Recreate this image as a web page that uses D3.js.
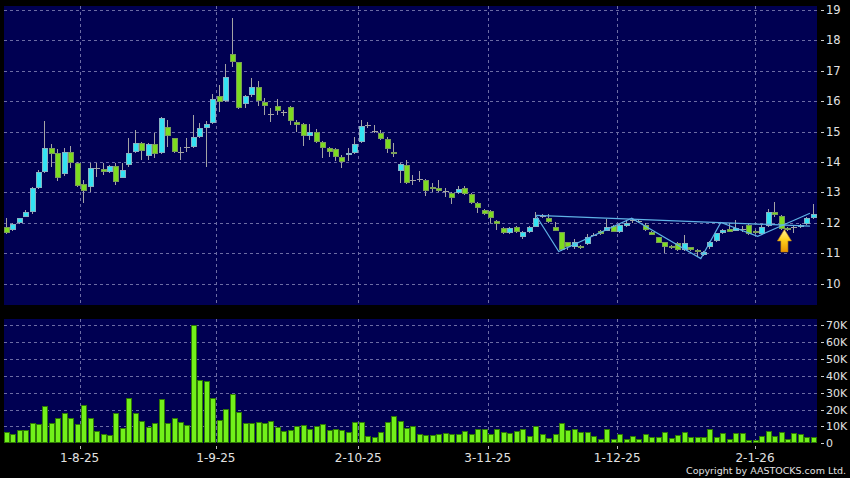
<!DOCTYPE html>
<html>
<head>
<meta charset="utf-8">
<script src="https://cdn.jsdelivr.net/npm/d3@7/dist/d3.min.js"></script>
<style>
  html, body { margin: 0; padding: 0; background: #000; }
  svg { display: block; }
  text { font-family: "DejaVu Sans", sans-serif; fill: #e2e2e2; }
</style>
</head>
<body>
<svg id="chart" width="850" height="478"></svg>
<script>
// daily candles, 17 Jul 2025 .. 15 Jan 2026 (index = trading day)
const opens = [11.87, 11.76, 11.98, 12.20, 12.34, 13.14, 13.67, 14.46, 14.28, 13.59, 14.32, 13.96, 13.26, 13.17, 13.81, 13.77, 13.66, 13.86, 13.48, 13.89,
  14.34, 14.61, 14.21, 14.58, 14.28, 15.16, 14.78, 14.33, 14.50, 14.49, 14.82, 15.12, 15.28, 16.17, 16.00, 17.55, 17.29, 15.91, 16.20, 16.47,
  15.97, 15.58, 15.84, 15.63, 15.81, 15.31, 15.25, 14.85, 14.99, 14.66, 14.46, 14.43, 14.16, 14.23, 14.29, 14.66, 15.22, 15.02, 14.95, 14.76,
  14.33, 13.70, 13.90, 13.42, 13.44, 13.41, 13.18, 13.14, 13.04, 12.98, 12.98, 13.14, 12.95, 12.65, 12.42, 12.39, 12.06, 11.83, 11.66, 11.86,
  11.53, 11.69, 11.87, 12.23, 12.17, 11.87, 11.69, 11.36, 11.21, 11.25, 11.29, 11.60, 11.74, 11.74, 11.89, 11.70, 11.89, 12.09, 12.06, 11.93,
  11.70, 11.52, 11.36, 11.23, 11.32, 11.10, 11.19, 11.10, 10.94, 11.19, 11.40, 11.65, 11.79, 11.74, 11.79, 11.93, 11.73, 11.62, 11.89, 12.34,
  12.23, 11.84, 11.86, 11.87, 11.95, 12.15];
const highs = [12.16, 11.98, 12.17, 12.42, 13.16, 13.75, 15.35, 14.59, 14.42, 14.45, 14.52, 14.00, 13.41, 13.96, 13.98, 13.96, 13.90, 13.98, 13.96, 14.80,
  15.05, 14.65, 14.62, 14.94, 15.47, 15.38, 14.80, 14.50, 14.78, 15.55, 15.29, 15.35, 16.24, 16.53, 17.22, 18.73, 17.30, 16.20, 16.75, 16.66,
  16.09, 15.77, 16.07, 15.70, 15.84, 15.38, 15.28, 15.24, 15.08, 14.70, 14.50, 14.46, 14.23, 14.45, 14.83, 15.38, 15.32, 15.22, 15.05, 14.83,
  14.61, 13.95, 14.06, 13.57, 13.70, 13.45, 13.30, 13.41, 13.13, 13.00, 13.21, 13.21, 12.97, 12.67, 12.44, 12.41, 12.08, 11.85, 11.86, 11.90,
  11.72, 11.90, 12.34, 12.30, 12.30, 12.03, 11.71, 11.38, 11.45, 11.28, 11.62, 11.65, 11.76, 12.11, 11.92, 11.96, 12.10, 12.15, 12.10, 11.98,
  11.72, 11.54, 11.38, 11.26, 11.38, 11.60, 11.21, 11.12, 11.08, 11.40, 11.67, 11.78, 11.98, 12.09, 11.90, 11.96, 11.75, 11.93, 12.44, 12.69,
  12.25, 11.87, 11.93, 11.96, 12.20, 12.62];
const lows = [11.62, 11.73, 11.96, 12.18, 12.30, 13.12, 13.62, 13.84, 13.37, 13.55, 13.79, 13.18, 12.64, 13.00, 13.51, 13.57, 13.62, 13.24, 13.46, 13.85,
  14.28, 14.06, 14.06, 14.12, 14.25, 14.50, 14.28, 14.06, 14.34, 14.45, 14.80, 13.84, 15.25, 15.65, 15.97, 17.13, 15.74, 15.78, 16.15, 15.85,
  15.55, 15.32, 15.55, 15.50, 15.22, 14.98, 14.53, 14.72, 14.62, 14.12, 14.17, 14.03, 13.81, 14.04, 14.27, 14.63, 15.11, 14.94, 14.73, 14.28,
  14.17, 13.31, 13.26, 13.24, 13.35, 12.88, 13.02, 13.02, 12.86, 12.61, 12.96, 12.92, 12.62, 12.31, 12.25, 12.00, 11.76, 11.62, 11.62, 11.66,
  11.45, 11.66, 11.85, 12.16, 12.00, 11.72, 11.08, 11.10, 11.15, 11.15, 11.27, 11.55, 11.60, 11.72, 11.68, 11.67, 11.87, 12.00, 12.00, 11.74,
  11.58, 11.32, 11.00, 11.15, 11.08, 11.06, 11.08, 10.88, 10.90, 11.15, 11.38, 11.63, 11.68, 11.72, 11.70, 11.60, 11.63, 11.60, 11.87, 12.20,
  11.77, 11.72, 11.65, 11.84, 11.93, 12.13];
const closes = [11.65, 11.95, 12.15, 12.34, 13.14, 13.67, 14.46, 14.26, 13.48, 14.32, 13.96, 13.22, 13.05, 13.79, 13.81, 13.66, 13.87, 13.35, 13.73, 14.28,
  14.61, 14.37, 14.58, 14.25, 15.44, 14.85, 14.32, 14.33, 14.50, 14.82, 15.12, 15.25, 16.07, 15.97, 16.80, 17.29, 15.78, 16.17, 16.47, 16.00,
  15.84, 15.58, 15.68, 15.63, 15.35, 15.22, 14.85, 14.99, 14.66, 14.46, 14.33, 14.16, 14.00, 14.29, 14.59, 15.18, 15.22, 15.02, 14.76, 14.43,
  14.26, 13.93, 13.31, 13.42, 13.44, 13.04, 13.14, 13.04, 13.04, 12.81, 13.11, 12.95, 12.65, 12.48, 12.29, 12.16, 11.96, 11.66, 11.83, 11.70,
  11.70, 11.87, 12.17, 12.23, 12.03, 11.74, 11.10, 11.19, 11.38, 11.20, 11.54, 11.60, 11.62, 11.87, 11.70, 11.93, 11.98, 12.09, 12.06, 11.76,
  11.60, 11.34, 11.19, 11.18, 11.10, 11.34, 11.10, 11.03, 11.05, 11.38, 11.65, 11.76, 11.70, 11.84, 11.79, 11.63, 11.65, 11.87, 12.34, 12.25,
  11.79, 11.76, 11.86, 11.93, 12.15, 12.29];
// volume in thousands of shares
const volumes = [6.9, 5.5, 7.9, 7.7, 12.2, 11.4, 21.9, 12.0, 15.2, 18.2, 15.2, 11.6, 22.5, 15.0, 7.3, 5.7, 5.1, 17.8, 9.3, 26.7,
  17.8, 13.4, 9.7, 12.2, 26.1, 12.0, 15.2, 12.5, 11.0, 70.2, 37.5, 37.1, 26.9, 13.6, 20.2, 29.1, 18.6, 12.2, 12.0, 12.6,
  12.2, 13.2, 9.8, 7.5, 7.9, 10.3, 11.0, 8.5, 10.5, 11.4, 7.9, 8.5, 7.9, 6.9, 12.5, 12.6, 4.5, 3.5, 6.5, 12.8,
  16.2, 13.2, 9.1, 10.3, 5.3, 4.9, 4.9, 5.5, 6.3, 5.3, 5.5, 7.3, 5.3, 8.5, 8.5, 5.3, 8.5, 6.9, 6.3, 7.5,
  8.3, 4.3, 10.3, 5.5, 3.0, 5.5, 12.2, 7.9, 8.3, 6.9, 6.9, 4.3, 2.6, 8.5, 2.6, 5.3, 2.6, 4.5, 2.6, 5.3,
  3.5, 3.9, 6.5, 3.3, 4.9, 6.9, 3.9, 3.5, 3.9, 8.3, 3.5, 5.9, 2.4, 6.3, 6.3, 2.0, 2.0, 4.5, 7.5, 4.5,
  6.9, 2.6, 5.9, 5.3, 3.9, 3.9];

const priceTicks = [10, 11, 12, 13, 14, 15, 16, 17, 18, 19];
const volumeTicks = [0, 10, 20, 30, 40, 50, 60, 70];
const volumeTickLabels = ["0", "10K", "20K", "30K", "40K", "50K", "60K", "70K"];
// month starts, in trading-day index units
const dateTicks = [11.3, 32.4, 54.45, 74.5, 94.55, 115.9];
const dateTickLabels = ["1-8-25", "1-9-25", "2-10-25", "3-11-25", "1-12-25", "2-1-26"];

// pattern lines drawn on the chart: [index, price]
const zigzag = [[82.0, 12.23], [85.5, 11.05], [96.8, 12.15], [107.5, 10.82], [110.6, 12.01], [116.3, 11.55], [124.4, 12.31]];
const topLine = [[82.0, 12.24], [124.4, 11.89]];
const signal = { i: 120.45, price: 11.78 };

const svg = d3.select("#chart");
const width = +svg.attr("width");
const height = +svg.attr("height");
const n = closes.length;

const pricePanel = { x0: 4, x1: 817, y0: 6, y1: 305 };
const volPanel = { x0: 4, x1: 817, y0: 319, y1: 443 };

const x = d3.scaleLinear().domain([0, n - 1]).range([6.7, 813.8]);
const y = d3.scaleLinear().domain([10, 19]).range([283.5, 10]);
const yv = d3.scaleLinear().domain([0, 70]).range([443.3, 325.3]);

const colors = {
  panel: "#000052",
  grid: "#6c6ca4",
  upFill: "#33e3f3",
  upStroke: "#86b3c4",
  downFill: "#7ddc20",
  downStroke: "#7a9e58",
  wick: "#a4a4a4",
  volFill: "#72f01a",
  volStroke: "#2e7806",
  pattern: "#5fb2e6"
};

svg.append("rect").attr("width", width).attr("height", height).attr("fill", "#000");

// panels
[pricePanel, volPanel].forEach((p) => {
  svg.append("rect")
    .attr("x", p.x0).attr("y", p.y0)
    .attr("width", p.x1 - p.x0).attr("height", p.y1 - p.y0)
    .attr("fill", colors.panel);
});

const grid = svg.append("g")
  .attr("stroke", colors.grid)
  .attr("stroke-width", 1)
  .attr("stroke-dasharray", "3,3")
  .attr("shape-rendering", "crispEdges");

grid.selectAll(".hp")
  .data(priceTicks)
  .enter()
  .append("line")
  .attr("x1", pricePanel.x0).attr("x2", pricePanel.x1)
  .attr("y1", (d) => Math.round(y(d)) + 0.5)
  .attr("y2", (d) => Math.round(y(d)) + 0.5);

grid.selectAll(".hv")
  .data(volumeTicks.filter((d) => d > 0))
  .enter()
  .append("line")
  .attr("x1", volPanel.x0).attr("x2", volPanel.x1)
  .attr("y1", (d) => Math.round(yv(d)) + 0.5)
  .attr("y2", (d) => Math.round(yv(d)) + 0.5);

[pricePanel, volPanel].forEach((p) => {
  grid.append("g")
    .selectAll("line")
    .data(dateTicks)
    .enter()
    .append("line")
    .attr("x1", (d) => Math.round(x(d)) + 0.5)
    .attr("x2", (d) => Math.round(x(d)) + 0.5)
    .attr("y1", p.y0).attr("y2", p.y1);
});

// volume bars
svg.append("g")
  .attr("shape-rendering", "crispEdges")
  .selectAll("rect")
  .data(volumes)
  .enter()
  .append("rect")
  .attr("x", (d, i) => Math.round(x(i) - 3) + 0.5)
  .attr("y", (d) => Math.round(yv(d)) + 0.5)
  .attr("width", 5)
  .attr("height", (d) => Math.max(1, Math.round(yv(0)) - Math.round(yv(d)) - 1))
  .attr("fill", colors.volFill)
  .attr("stroke", colors.volStroke)
  .attr("stroke-width", 1);

// candles
const candles = d3.range(n).map((i) => ({
  i: i, o: opens[i], h: highs[i], l: lows[i], c: closes[i]
}));

const candle = svg.append("g")
  .attr("shape-rendering", "crispEdges")
  .selectAll("g")
  .data(candles)
  .enter()
  .append("g")
  .attr("transform", (d) => "translate(" + Math.round(x(d.i) - 3) + ",0)");

candle.append("line")
  .attr("x1", 2.5).attr("x2", 2.5)
  .attr("y1", (d) => Math.round(y(d.h)))
  .attr("y2", (d) => Math.round(y(d.l)))
  .attr("stroke", colors.wick)
  .attr("stroke-width", 1);

candle.filter((d) => d.o !== d.c)
  .append("rect")
  .attr("x", 0.5)
  .attr("y", (d) => Math.round(y(Math.max(d.o, d.c))) + 0.5)
  .attr("width", 5)
  .attr("height", (d) => Math.max(1, Math.round(y(Math.min(d.o, d.c))) - Math.round(y(Math.max(d.o, d.c))) - 1))
  .attr("fill", (d) => (d.c > d.o ? colors.upFill : colors.downFill))
  .attr("stroke", (d) => (d.c > d.o ? colors.upStroke : colors.downStroke))
  .attr("stroke-width", 1);

candle.filter((d) => d.o === d.c)
  .append("line")
  .attr("x1", 0).attr("x2", 6)
  .attr("y1", (d) => Math.round(y(d.c)) + 0.5)
  .attr("y2", (d) => Math.round(y(d.c)) + 0.5)
  .attr("stroke", colors.wick)
  .attr("stroke-width", 1);

// pattern lines
const line = d3.line().x((d) => x(d[0])).y((d) => y(d[1]));
[zigzag, topLine].forEach((pts) => {
  svg.append("path")
    .attr("d", line(pts))
    .attr("fill", "none")
    .attr("stroke", colors.pattern)
    .attr("stroke-width", 1.2);
});

// signal arrow
const defs = svg.append("defs");
const grad = defs.append("linearGradient")
  .attr("id", "arrowGrad")
  .attr("x1", 0).attr("y1", 0).attr("x2", 0).attr("y2", 1);
grad.append("stop").attr("offset", "0%").attr("stop-color", "#fff3a0");
grad.append("stop").attr("offset", "45%").attr("stop-color", "#ffd21e");
grad.append("stop").attr("offset", "100%").attr("stop-color", "#e89400");

const ax = x(signal.i);
const ay = y(signal.price);
svg.append("path")
  .attr("d", [
    "M", ax, ay,
    "L", ax + 7, ay + 11.5,
    "L", ax + 3.5, ay + 11.5,
    "L", ax + 3.5, ay + 22.5,
    "L", ax - 3.5, ay + 22.5,
    "L", ax - 3.5, ay + 11.5,
    "L", ax - 7, ay + 11.5, "Z"
  ].join(" "))
  .attr("fill", "url(#arrowGrad)")
  .attr("stroke", "#c98a10")
  .attr("stroke-width", 0.6);

// right axes
const axisX = pricePanel.x1;
const priceAxis = svg.append("g");
priceAxis.selectAll("line")
  .data(priceTicks)
  .enter()
  .append("line")
  .attr("x1", axisX + 4).attr("x2", axisX + 7)
  .attr("y1", (d) => Math.round(y(d)) + 0.5)
  .attr("y2", (d) => Math.round(y(d)) + 0.5)
  .attr("stroke", "#cfcfcf");
priceAxis.selectAll("text")
  .data(priceTicks)
  .enter()
  .append("text")
  .attr("x", axisX + 9)
  .attr("y", (d) => y(d) + 4)
  .attr("font-size", 11.5)
  .text((d) => d);

const volAxis = svg.append("g");
volAxis.selectAll("line")
  .data(volumeTicks)
  .enter()
  .append("line")
  .attr("x1", axisX + 4).attr("x2", axisX + 7)
  .attr("y1", (d) => Math.round(yv(d)) + 0.5)
  .attr("y2", (d) => Math.round(yv(d)) + 0.5)
  .attr("stroke", "#cfcfcf");
volAxis.selectAll("text")
  .data(volumeTicks)
  .enter()
  .append("text")
  .attr("x", axisX + 9)
  .attr("y", (d) => yv(d) + 4)
  .attr("font-size", 11)
  .text((d, i) => volumeTickLabels[i]);

// date axis
const dateAxis = svg.append("g");
dateAxis.selectAll("line")
  .data(dateTicks)
  .enter()
  .append("line")
  .attr("x1", (d) => Math.round(x(d)) + 0.5)
  .attr("x2", (d) => Math.round(x(d)) + 0.5)
  .attr("y1", volPanel.y1 + 3).attr("y2", volPanel.y1 + 6)
  .attr("stroke", "#bdbdbd");
dateAxis.selectAll("text")
  .data(dateTicks)
  .enter()
  .append("text")
  .attr("x", (d) => x(d))
  .attr("y", 462)
  .attr("text-anchor", "middle")
  .attr("font-size", 12)
  .text((d, i) => dateTickLabels[i]);

svg.append("text")
  .attr("x", 846)
  .attr("y", 474)
  .attr("text-anchor", "end")
  .attr("font-size", 9.5)
  .text("Copyright by AASTOCKS.com Ltd.");
</script>
</body>
</html>
